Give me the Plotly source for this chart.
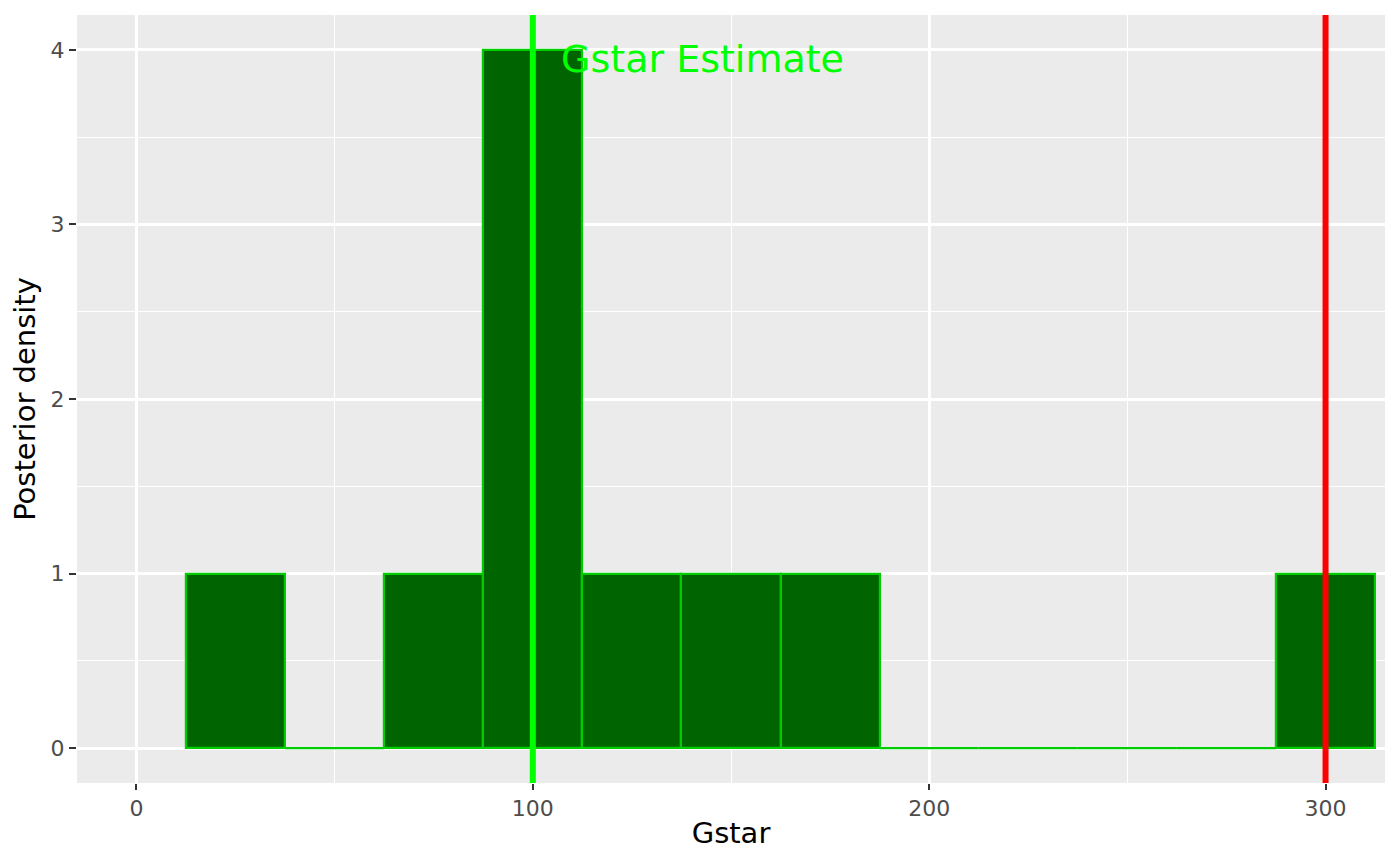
import plotly.graph_objects as go

# Histogram bins (centers, width 25) and counts
bin_centers = [25, 50, 75, 100, 125, 150, 175, 200, 225, 250, 275, 300]
counts = [1, 0, 1, 4, 1, 1, 1, 0, 0, 0, 0, 1]
bin_width = 25
estimate = 100
true_value = 300
x_ticks = [0, 100, 200, 300]
y_ticks = [0, 1, 2, 3, 4]

fill_col = "#006400"
edge_col = "#00CD00"

fig = go.Figure()

nz_x = [c for c, n in zip(bin_centers, counts) if n > 0]
nz_y = [n for n in counts if n > 0]
fig.add_trace(go.Bar(
    x=nz_x, y=nz_y, width=bin_width,
    marker=dict(color=fill_col, line=dict(color=edge_col, width=2.2)),
    showlegend=False, hoverinfo="skip",
))

# zero-count bins drawn as flat outlines at 0
zx, zy = [], []
for c, n in zip(bin_centers, counts):
    if n == 0:
        zx += [c - bin_width / 2, c + bin_width / 2, None]
        zy += [0, 0, None]
fig.add_trace(go.Scatter(x=zx, y=zy, mode="lines",
                         line=dict(color=edge_col, width=2.2),
                         showlegend=False, hoverinfo="skip"))

fig.add_vline(x=estimate, line=dict(color="#00FF00", width=6))
fig.add_vline(x=true_value, line=dict(color="#FF0000", width=6))

fig.add_annotation(x=142.8, y=3.95, text="Gstar Estimate", showarrow=False,
                   font=dict(color="#00FF00", size=38, family="DejaVu Sans"),
                   xanchor="center", yanchor="middle")

fig.update_layout(
    width=1400, height=866,
    margin=dict(l=69, r=23, t=7, b=91),
    paper_bgcolor="white", plot_bgcolor="#EBEBEB",
    font=dict(family="DejaVu Sans", color="black"),
    bargap=0,
)
fig.update_xaxes(
    range=[-15, 315], tickvals=x_ticks, ticktext=[str(v) for v in x_ticks],
    showgrid=True, gridcolor="white", gridwidth=2.6, zeroline=False,
    ticks="outside", ticklen=6, tickwidth=2, tickcolor="#333333",
    tickfont=dict(size=22, color="#4D4D4D"),
    minor=dict(tickvals=[50, 150, 250], showgrid=True, gridcolor="white", gridwidth=1.3, ticks=""),
    title=dict(text="Gstar", font=dict(size=29, color="black"), standoff=2),
    showline=False, automargin=False,
)
fig.update_yaxes(
    range=[-0.2, 4.2], tickvals=y_ticks, ticktext=[str(v) for v in y_ticks],
    showgrid=True, gridcolor="white", gridwidth=2.6, zeroline=False,
    ticks="outside", ticklen=7, tickwidth=2, tickcolor="#333333",
    tickfont=dict(size=22, color="#4D4D4D"),
    minor=dict(tickvals=[0.5, 1.5, 2.5, 3.5], showgrid=True, gridcolor="white", gridwidth=1.3, ticks=""),
    title=dict(text="Posterior density", font=dict(size=29, color="black"), standoff=14),
    showline=False, automargin=False,
)

fig.write_html("out.html")
